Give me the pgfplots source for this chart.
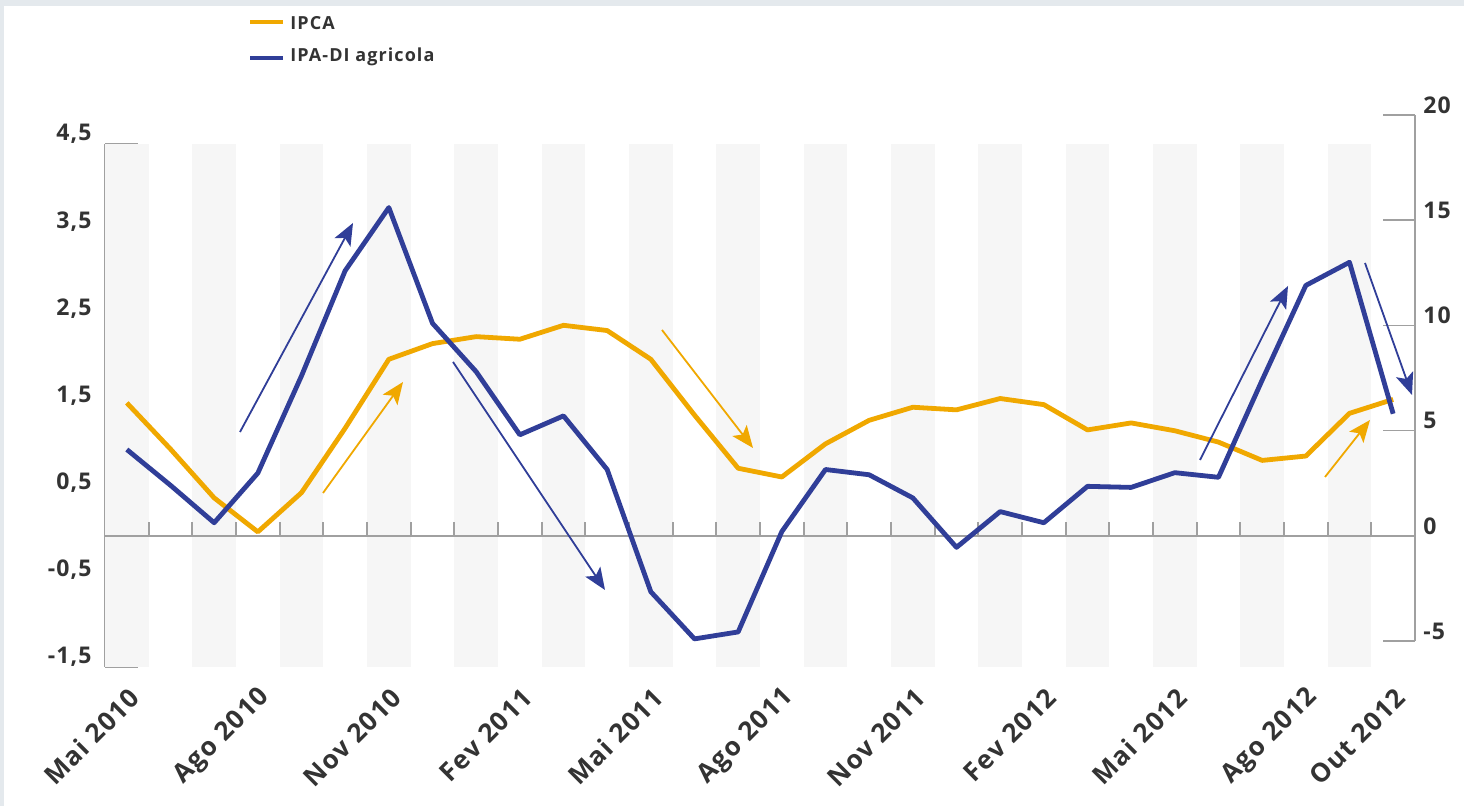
\documentclass[border=0pt]{standalone}
\usepackage{pgfplots}
\pgfplotsset{compat=1.18}
\usepackage{pgfplotstable}
\usepackage{fontspec}
\setmainfont{Open Sans}[LetterSpace=5]
\newfontfamily\legfont{Open Sans}[LetterSpace=6]
\usetikzlibrary{arrows.meta}
\definecolor{ipca}{RGB}{240,168,0}
\definecolor{ipa}{RGB}{48,62,152}
\definecolor{stripe}{RGB}{246,246,246}
\definecolor{axgray}{RGB}{160,160,160}
\definecolor{txt}{RGB}{51,51,51}
\definecolor{bggray}{RGB}{228,233,237}

\pgfplotstableread{
i ipca ipa
0 1.53 4.10
1 1.00 2.40
2 0.44 0.62
3 0.05 2.98
4 0.50 7.60
5 1.24 12.6
6 2.03 15.6
7 2.21 10.1
8 2.29 7.8
9 2.26 4.80
10 2.42 5.70
11 2.36 3.15
12 2.03 -2.66
13 1.39 -4.90
14 0.78 -4.57
15 0.68 0.20
16 1.06 3.15
17 1.33 2.90
18 1.48 1.80
19 1.45 -0.55
20 1.58 1.15
21 1.51 0.62
22 1.22 2.35
23 1.30 2.30
24 1.21 3.00
25 1.08 2.78
26 0.87 7.40
27 0.92 11.9
28 1.41 13.0
29 1.57 5.80
}\datatab

\begin{document}
\begin{tikzpicture}[font=\color{txt}]
\begin{scope}[shift={(-52.5pt,333.5pt)}, x=0.5pt, y=-0.5pt]
  \fill[bggray] (0,0) rectangle (1464,806);
  \fill[white] (4,6) rectangle (1464,806);
\end{scope}

\begin{axis}[
  at={(0,0)}, anchor=south west,
  scale only axis, width=655pt, height=261.5pt,
  xmin=-0.5, xmax=29.5, ymin=-1.5, ymax=4.5,
  axis y line*=left, axis x line*=bottom,
  x axis line style={draw=none},
  y axis line style={draw=axgray, line width=0.8pt},
  ytick={-1.5,-0.5,0.5,1.5,2.5,3.5,4.5},
  yticklabels={{-1,5},{-0,5},{0,5},{1,5},{2,5},{3,5},{4,5}},
  ytick style={draw=axgray, line width=0.8pt},
  major tick length=16.5pt,
  tick align=inside,
  xtick={0,3,6,9,12,15,18,21,24,27,29},
  xticklabels={Mai 2010,Ago 2010,Nov 2010,Fev 2011,Mai 2011,Ago 2011,Nov 2011,Fev 2012,Mai 2012,Ago 2012,Out 2012},
  xtick style={draw=none},
  yticklabel style={anchor=east, inner sep=0pt, xshift=-6.5pt, yshift=5pt, font=\fontsize{11.5}{13}\selectfont\bfseries\color{txt}},
  xticklabel style={anchor=east, inner sep=0pt, xshift=4pt, yshift=-13pt, rotate=45, font=\fontsize{13}{15}\selectfont\bfseries\color{txt}},
  clip=false,
]
\pgfplotsinvokeforeach{0,2,...,28}{
  \fill[stripe] (axis cs:{#1-0.5},-1.5) rectangle (axis cs:{#1+0.5},4.5);
}
\draw[axgray, line width=1pt] (axis cs:-0.5,0) -- (axis cs:29.5,0);
\pgfplotsinvokeforeach{0,...,28}{
  \draw[axgray, line width=1pt] (axis cs:{#1+0.5},0) -- ++(0pt,7pt);
}
\addplot[ipca, line width=2.4pt, line join=round] table[x=i, y=ipca]{\datatab};
\end{axis}

\begin{axis}[
  at={(0,13pt)}, anchor=south west,
  scale only axis, width=655pt, height=263pt,
  xmin=-0.5, xmax=29.5, ymin=-5, ymax=20,
  axis y line*=right, axis x line=none,
  y axis line style={draw=axgray, line width=0.8pt},
  ytick={-5,0,5,10,15,20},
  yticklabels={-5,0,5,10,15,20},
  ytick style={draw=axgray, line width=0.8pt},
  major tick length=16pt,
  tick align=inside,
  yticklabel style={anchor=west, inner sep=0pt, xshift=4pt, yshift=5pt, font=\fontsize{11.5}{13}\selectfont\bfseries\color{txt}},
  clip=false,
]
\addplot[ipa, line width=2.4pt, line join=round] table[x=i, y=ipa]{\datatab};
\end{axis}

\begin{scope}[shift={(-52.5pt,333.5pt)}, x=0.5pt, y=-0.5pt]
  \tikzset{arr/.style={line width=0.9pt, -{Stealth[length=11pt, width=9pt, inset=2.5pt]}}}
  \draw[ipa, arr] (240,432) -- (353,223);
  \draw[ipca, arr] (323,493) -- (403,382);
  \draw[ipa, arr] (453,362) -- (605,590);
  \draw[ipca, arr] (662,330) -- (753,448);
  \draw[ipa, arr] (1200,460) -- (1288,286);
  \draw[ipa, arr] (1365,263) -- (1412,395);
  \draw[ipca, arr] (1325,477) -- (1370,420);
  % legend
  \draw[ipca, line width=2pt] (250,22) -- (283,22);
  \node[anchor=west, inner sep=0pt, font=\legfont\fontsize{9}{10}\selectfont\bfseries\color{txt}] at (290,23) {IPCA};
  \draw[ipa, line width=2pt] (250,58) -- (283,58);
  \node[anchor=west, inner sep=0pt, font=\legfont\fontsize{9}{10}\selectfont\bfseries\color{txt}] at (290,57) {IPA-DI agricola};
\end{scope}

\pgfresetboundingbox
\path[use as bounding box] (-52.5pt,333.5pt) rectangle (679.5pt,-69.5pt);
\end{tikzpicture}
\end{document}
